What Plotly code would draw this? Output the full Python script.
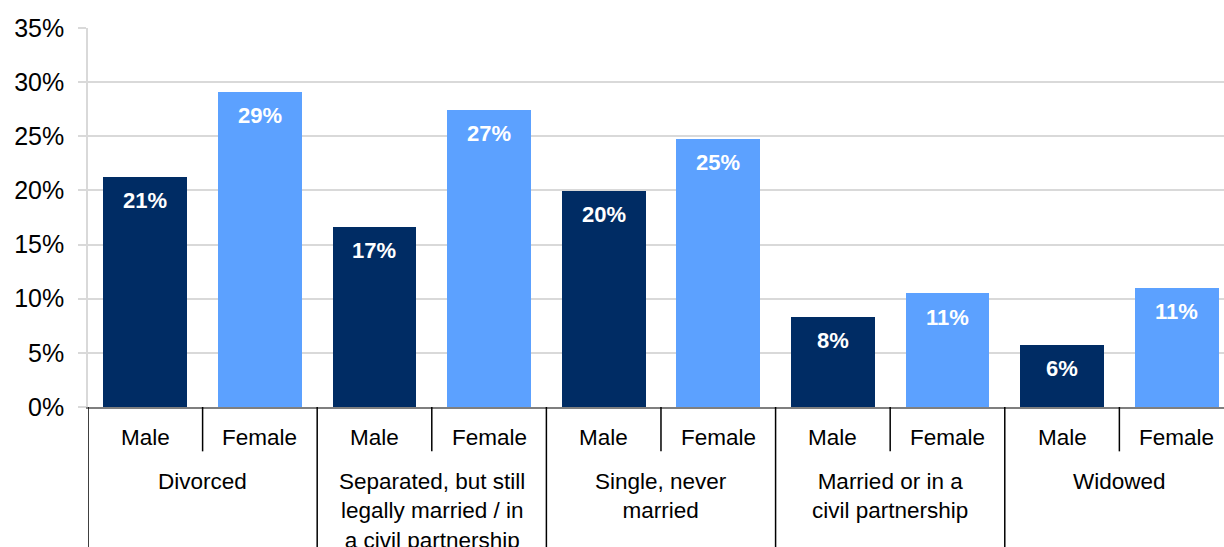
import plotly.graph_objects as go

# ---- data ----
groups = [
    "Divorced",
    "Separated, but still<br>legally married / in<br>a civil partnership",
    "Single, never<br>married",
    "Married or in a<br>civil partnership",
    "Widowed",
]
sexes = ["Male", "Female"]
male_pct = [21.26, 16.65, 19.95, 8.32, 5.74]
female_pct = [29.1, 27.45, 24.77, 10.52, 11.02]
y_ticks = [0, 5, 10, 15, 20, 25, 30, 35]

MALE_COLOR = "#002C64"
FEMALE_COLOR = "#5CA1FF"
FONT = "Liberation Sans, Arial, sans-serif"

n = len(groups)
male_x = [2 * i for i in range(n)]
female_x = [2 * i + 1 for i in range(n)]

fig = go.Figure()
fig.add_trace(go.Bar(x=male_x, y=male_pct, width=0.73, marker=dict(color=MALE_COLOR, line=dict(width=0)),
                     name="Male", hoverinfo="skip"))
fig.add_trace(go.Bar(x=female_x, y=female_pct, width=0.73, marker=dict(color=FEMALE_COLOR, line=dict(width=0)),
                     name="Female", hoverinfo="skip"))

annotations = []
# value labels inside bars
for xs, vals in ((male_x, male_pct), (female_x, female_pct)):
    for x, v in zip(xs, vals):
        annotations.append(dict(x=x, y=v, xref="x", yref="y", text=f"<b>{round(v)}%</b>",
                                showarrow=False, yanchor="middle", yshift=-24,
                                font=dict(family=FONT, size=22, color="white")))
# sex labels and group labels
for i in range(n):
    for j, s in enumerate(sexes):
        annotations.append(dict(x=2 * i + j, y=0, xref="x", yref="paper", text=s, showarrow=False,
                                yanchor="middle", yshift=-30.5,
                                font=dict(family=FONT, size=22.5, color="black")))
    annotations.append(dict(x=2 * i + 0.5, y=0, xref="x", yref="paper", text=groups[i], showarrow=False,
                            yanchor="top", yshift=-59.5, align="center",
                            font=dict(family=FONT, size=22.5, color="black")))

shapes = []
for i in range(n + 1):
    shapes.append(dict(type="line", xref="x", yref="paper", x0=2 * i - 0.5, x1=2 * i - 0.5,
                       y0=0, y1=-0.4, line=dict(color="black", width=1.5)))
for i in range(n):
    shapes.append(dict(type="line", xref="x", yref="paper", x0=2 * i + 0.5, x1=2 * i + 0.5,
                       y0=0, y1=-0.117, line=dict(color="black", width=1.5)))

fig.update_layout(
    width=1224, height=547,
    margin=dict(l=88, r=0, t=28, b=139.5),
    paper_bgcolor="white", plot_bgcolor="white",
    showlegend=False,
    bargap=0,
    annotations=annotations,
    shapes=shapes,
    font=dict(family=FONT, color="black"),
)
fig.update_xaxes(range=[-0.5, 9.413], showticklabels=False, showgrid=False, zeroline=False,
                 showline=True, linecolor="#7f7f7f", linewidth=1.5, ticks="")
fig.update_yaxes(range=[0, 35], tickvals=y_ticks, ticktext=[f"{t}%" for t in y_ticks],
                 showgrid=True, gridcolor="#d9d9d9", gridwidth=1.5, zeroline=False,
                 showline=True, linecolor="#d9d9d9", linewidth=1.5,
                 ticks="outside", ticklen=8, tickcolor="#d9d9d9", tickwidth=1.5,
                 ticklabelstandoff=9,
                 tickfont=dict(family=FONT, size=25, color="black"))

fig.write_html("out.html", config={"displayModeBar": False},
               post_script="document.body.style.margin='0';")
